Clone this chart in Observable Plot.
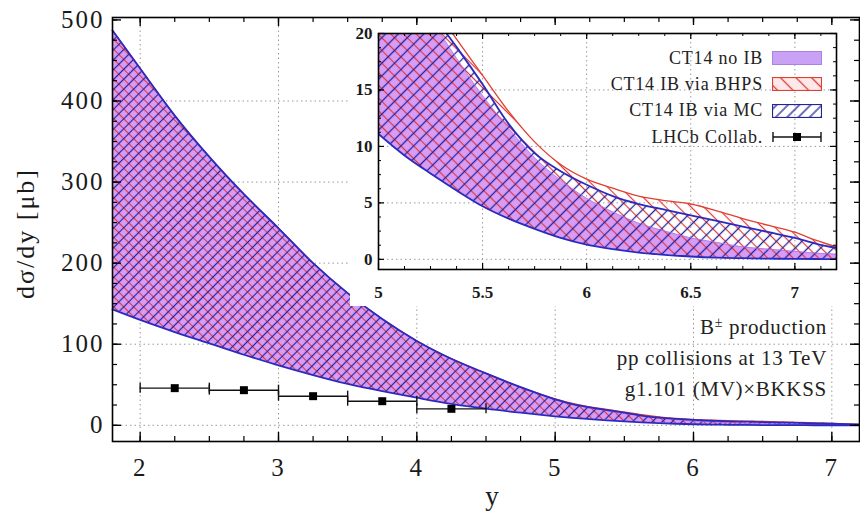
<!DOCTYPE html>
<html><head><meta charset="utf-8">
<script src="https://cdn.jsdelivr.net/npm/d3@7"></script>
<script src="https://cdn.jsdelivr.net/npm/@observablehq/plot@0.6"></script>
<style>
html,body{margin:0;padding:0;background:#fff;}
#wrap{position:relative;width:860px;height:514px;overflow:hidden;font-family:"Liberation Serif","Times New Roman",serif;}
#inset{position:absolute;left:350px;top:25px;}
#legend{position:absolute;right:38px;top:45px;font-size:18px;letter-spacing:0.8px;color:#222;}
.row{display:flex;align-items:center;justify-content:flex-end;height:26.3px;}
.row span{margin-right:9px;white-space:nowrap;}
.row svg{display:block;}
#note{position:absolute;right:33px;top:312px;font-size:21px;letter-spacing:0.7px;line-height:31px;text-align:right;color:#222;white-space:nowrap;}
#note sup{font-size:14px;line-height:0;vertical-align:7px;}
</style></head>
<body>
<svg width="0" height="0" style="position:absolute">
<defs>
 <pattern id="mRed" patternUnits="userSpaceOnUse" width="7" height="7" patternTransform="rotate(-45)"><line x1="3.5" y1="-1" x2="3.5" y2="8" stroke="#e03838" stroke-width="1.1"/></pattern>
 <pattern id="mBlue" patternUnits="userSpaceOnUse" width="7" height="7" patternTransform="rotate(45)"><line x1="3.5" y1="-1" x2="3.5" y2="8" stroke="#23239a" stroke-width="1.2"/></pattern>
 <pattern id="iRed" patternUnits="userSpaceOnUse" width="9" height="9" patternTransform="rotate(-45)"><line x1="4.5" y1="-1" x2="4.5" y2="10" stroke="#e03838" stroke-width="1.2"/></pattern>
 <pattern id="iBlue" patternUnits="userSpaceOnUse" width="9" height="9" patternTransform="rotate(45)"><line x1="4.5" y1="-1" x2="4.5" y2="10" stroke="#23239a" stroke-width="1.3"/></pattern>
 <pattern id="lRed" patternUnits="userSpaceOnUse" width="11" height="11" patternTransform="rotate(-45)"><line x1="5.5" y1="-1" x2="5.5" y2="12" stroke="#e03838" stroke-width="1.3"/></pattern>
 <pattern id="lBlue" patternUnits="userSpaceOnUse" width="8" height="8" patternTransform="rotate(45)"><line x1="4" y1="-1" x2="4" y2="9" stroke="#23239a" stroke-width="1.3"/></pattern>
</defs></svg>
<div id="wrap"></div>
<script>
// ---- data ----
const bandX      = [1.8, 2.0, 2.25, 2.5, 2.75, 3.0, 3.25, 3.5, 3.75, 4.0, 4.25, 4.5, 4.75, 5.0, 5.125, 5.25, 5.375, 5.5, 5.625, 5.75, 5.875, 6.0, 6.125, 6.25, 6.375, 6.5, 6.625, 6.75, 6.875, 7.0, 7.1, 7.2];
const lowerAll   = [143, 130, 115, 101, 87, 74, 62, 51, 42, 34, 26.5, 20.5, 15.5, 11.1, 9.2, 7.6, 6.1, 4.7, 3.6, 2.7, 1.9, 1.3, 0.9, 0.6, 0.4, 0.25, 0.15, 0.1, 0.06, 0.04, 0.03, 0.02];
const upperNoIB  = [487, 440, 382, 331, 285, 243, 200, 163, 131, 104, 82, 64, 47, 32, 26, 21.5, 17.8, 14.5, 11.6, 9.0, 7.0, 5.4, 4.2, 3.2, 2.5, 1.9, 1.5, 1.1, 0.9, 0.7, 0.55, 0.45];
const upperBHPS  = [487, 440, 382, 331, 285, 243, 200, 163, 131, 104, 82, 64, 47, 32.5, 27, 22.8, 19.5, 16.3, 13.1, 10.4, 8.4, 7.1, 6.3, 5.6, 5.2, 4.9, 4.3, 3.6, 3.0, 2.4, 1.7, 1.1];
const upperMC    = [487, 440, 382, 331, 285, 243, 200, 163, 131, 104, 82, 64, 47, 32, 26, 22, 18.8, 15.5, 12.0, 9.4, 7.8, 6.6, 5.6, 4.9, 4.4, 3.9, 3.4, 2.9, 2.4, 1.9, 1.4, 1.0];

const lhcbX      = [2.25, 2.75, 3.25, 3.75, 4.25];
const lhcbVal    = [45.8, 43.3, 35.9, 29.7, 20.3];
const lhcbHalfW  = [0.25, 0.25, 0.25, 0.25, 0.25];

const mainXTicks  = [2, 3, 4, 5, 6, 7];
const mainYTicks  = [0, 100, 200, 300, 400, 500];
const insetXTicks = [5, 5.5, 6, 6.5, 7];
const insetYTicks = [0, 5, 10, 15, 20];
const xLabel = "y";
const yLabel = "dσ/dy [μb]";
const legendLabels = ["CT14 no IB", "CT14 IB via BHPS", "CT14 IB via MC", "LHCb Collab."];
const noteLines = ["B<sup>±</sup> production", "pp collisions at 13 TeV", "g1.101 (MV)×BKKSS"];

// ---- build ----
const band = bandX.map((x, i) => ({x, lo: lowerAll[i], noib: upperNoIB[i], bhps: upperBHPS[i], mc: upperMC[i]}));
const pts = lhcbX.map((x, i) => ({x, v: lhcbVal[i], lo: x - lhcbHalfW[i], hi: x + lhcbHalfW[i]}));
const caps = pts.flatMap(p => [{x: p.lo, v: p.v}, {x: p.hi, v: p.v}]);

const RED = "#e04030", BLUE = "#2a2ac0", PINK = "#d79cf6";
const grid = {stroke: "#9a9a9a", strokeDasharray: "1.5,3", strokeWidth: 1};
const fmt = d => String(d);

function frameTicks(xs, ys, len, W, H, sw) {
  return [
    Plot.tickX(xs, {x: d => d, insetTop: H - len, stroke: "#000", strokeWidth: sw}),
    Plot.tickX(xs, {x: d => d, insetBottom: H - len, stroke: "#000", strokeWidth: sw}),
    Plot.tickY(ys, {y: d => d, insetRight: W - len, stroke: "#000", strokeWidth: sw}),
    Plot.tickY(ys, {y: d => d, insetLeft: W - len, stroke: "#000", strokeWidth: sw})
  ];
}

function bandMarks(red, blue, clip) {
  const c = "monotone-x";
  return [
    Plot.areaY(band, {x: "x", y1: "lo", y2: "noib", fill: PINK, curve: c, clip}),
    Plot.areaY(band, {x: "x", y1: "lo", y2: "bhps", fill: `url(#${red})`, curve: c, clip}),
    Plot.areaY(band, {x: "x", y1: "lo", y2: "mc", fill: `url(#${blue})`, curve: c, clip}),
    Plot.line(band, {x: "x", y: "bhps", stroke: RED, strokeWidth: 1.3, curve: c, clip}),
    Plot.line(band, {x: "x", y: "noib", stroke: "#b070e8", strokeWidth: 0.8, curve: c, clip}),
    Plot.line(band, {x: "x", y: "mc", stroke: BLUE, strokeWidth: 1.8, curve: c, clip}),
    Plot.line(band, {x: "x", y: "lo", stroke: BLUE, strokeWidth: 1.8, curve: c, clip})
  ];
}

// main plot
const W = 860, H = 514, mL = 112, mR = 1, mT = 17, mB = 73;
const pW = W - mL - mR, pH = H - mT - mB;
const xMinor = d3.range(2, 7.21, 0.25);
const yMinor = d3.range(0, 501, 25);

const main = Plot.plot({
  width: W, height: H,
  marginLeft: mL, marginRight: mR, marginTop: mT, marginBottom: mB,
  x: {domain: [1.8, 7.2]},
  y: {domain: [-20, 503]},
  style: {fontFamily: "Liberation Serif, Times New Roman, serif", background: "#fff", color: "#1a1a1a"},
  marks: [
    Plot.ruleX(mainXTicks, {x: d => d, ...grid}),
    Plot.ruleY(mainYTicks.filter(v => v < 500), {y: d => d, ...grid}),
    ...bandMarks("mRed", "mBlue", false),
    Plot.ruleY(pts, {y: "v", x1: "lo", x2: "hi", stroke: "#111", strokeWidth: 1.4}),
    Plot.ruleX(caps, {x: "x", y1: "v", y2: "v", insetTop: -5, insetBottom: -5, stroke: "#111", strokeWidth: 1.4}),
    Plot.dot(pts, {x: "x", y: "v", symbol: "square", r: 4.5, fill: "#000", stroke: "none"}),
    ...frameTicks(xMinor, yMinor, 5, pW, pH, 1.2),
    ...frameTicks(mainXTicks, mainYTicks, 9, pW, pH, 1.4),
    Plot.frame({stroke: "#000", strokeWidth: 1.6}),
    Plot.axisX(mainXTicks, {tickSize: 0, tickPadding: 17, fontSize: 25, label: null, tickFormat: fmt}),
    Plot.axisY(mainYTicks, {tickSize: 0, tickPadding: 8, fontSize: 25, label: null, tickFormat: fmt}),
    Plot.text([yLabel], {text: d => d, frameAnchor: "left", textAnchor: "middle", lineAnchor: "middle", dx: -87, dy: 4, rotate: -90, fontSize: 26}),
    Plot.text([xLabel], {text: d => d, frameAnchor: "bottom", textAnchor: "middle", lineAnchor: "middle", dx: 7, dy: 55, fontSize: 27})
  ]
});
main.querySelectorAll('[aria-label$="tick label"]').forEach(g => g.style.letterSpacing = "2px");
main.querySelectorAll('[aria-label="text"]').forEach(g => g.style.letterSpacing = "2px");

// inset plot
const iW = 498, iH = 281, iL = 28, iR = 12, iT = 8, iB = 37;
const ipW = iW - iL - iR, ipH = iH - iT - iB;
const ixMinor = d3.range(5, 7.21, 0.125);
const iyMinor = d3.range(0, 20.01, 1.25);
const inset = Plot.plot({
  width: iW, height: iH,
  marginLeft: iL, marginRight: iR, marginTop: iT, marginBottom: iB,
  x: {domain: [5, 7.2]},
  y: {domain: [-0.9, 20]},
  style: {fontFamily: "Liberation Serif, Times New Roman, serif", background: "#fff", color: "#1a1a1a"},
  marks: [
    Plot.ruleX(insetXTicks.filter(v => v > 5), {x: d => d, ...grid}),
    Plot.ruleY(insetYTicks.filter(v => v < 20), {y: d => d, ...grid}),
    ...bandMarks("iRed", "iBlue", true),
    ...frameTicks(ixMinor, iyMinor, 3, ipW, ipH, 1),
    ...frameTicks(insetXTicks, insetYTicks, 6, ipW, ipH, 1.2),
    Plot.frame({stroke: "#000", strokeWidth: 1.6}),
    Plot.axisX(insetXTicks, {tickSize: 0, tickPadding: 16, fontSize: 17, fontWeight: "bold", label: null, tickFormat: fmt}),
    Plot.axisY(insetYTicks, {tickSize: 0, tickPadding: 6, fontSize: 17, fontWeight: "bold", label: null, tickFormat: fmt})
  ]
});
inset.id = "inset";

const wrap = document.getElementById("wrap");
wrap.appendChild(main);
wrap.appendChild(inset);

// legend
const sw = [
  `<svg width="50" height="14"><rect x="0.5" y="0.5" width="49" height="13" fill="#c9a2f6" stroke="#a783e6"/></svg>`,
  `<svg width="50" height="14"><rect x="0.5" y="0.5" width="49" height="13" fill="#fde9ea"/><rect x="0.5" y="0.5" width="49" height="13" fill="url(#lRed)" stroke="${RED}" stroke-width="1.2"/></svg>`,
  `<svg width="50" height="14"><rect x="0.5" y="0.5" width="49" height="13" fill="url(#lBlue)" stroke="#23239a" stroke-width="1.2"/></svg>`,
  `<svg width="50" height="14"><line x1="1" y1="7" x2="49" y2="7" stroke="#111" stroke-width="1.4"/><line x1="1" y1="2" x2="1" y2="12" stroke="#111" stroke-width="1.4"/><line x1="49" y1="2" x2="49" y2="12" stroke="#111" stroke-width="1.4"/><rect x="21" y="3" width="8" height="8" fill="#000"/></svg>`
];
const legend = document.createElement("div");
legend.id = "legend";
legend.innerHTML = legendLabels.map((t, i) => `<div class="row"><span>${t}</span>${sw[i]}</div>`).join("");
wrap.appendChild(legend);

const note = document.createElement("div");
note.id = "note";
note.innerHTML = noteLines.join("<br>");
wrap.appendChild(note);
</script>
</body></html>
